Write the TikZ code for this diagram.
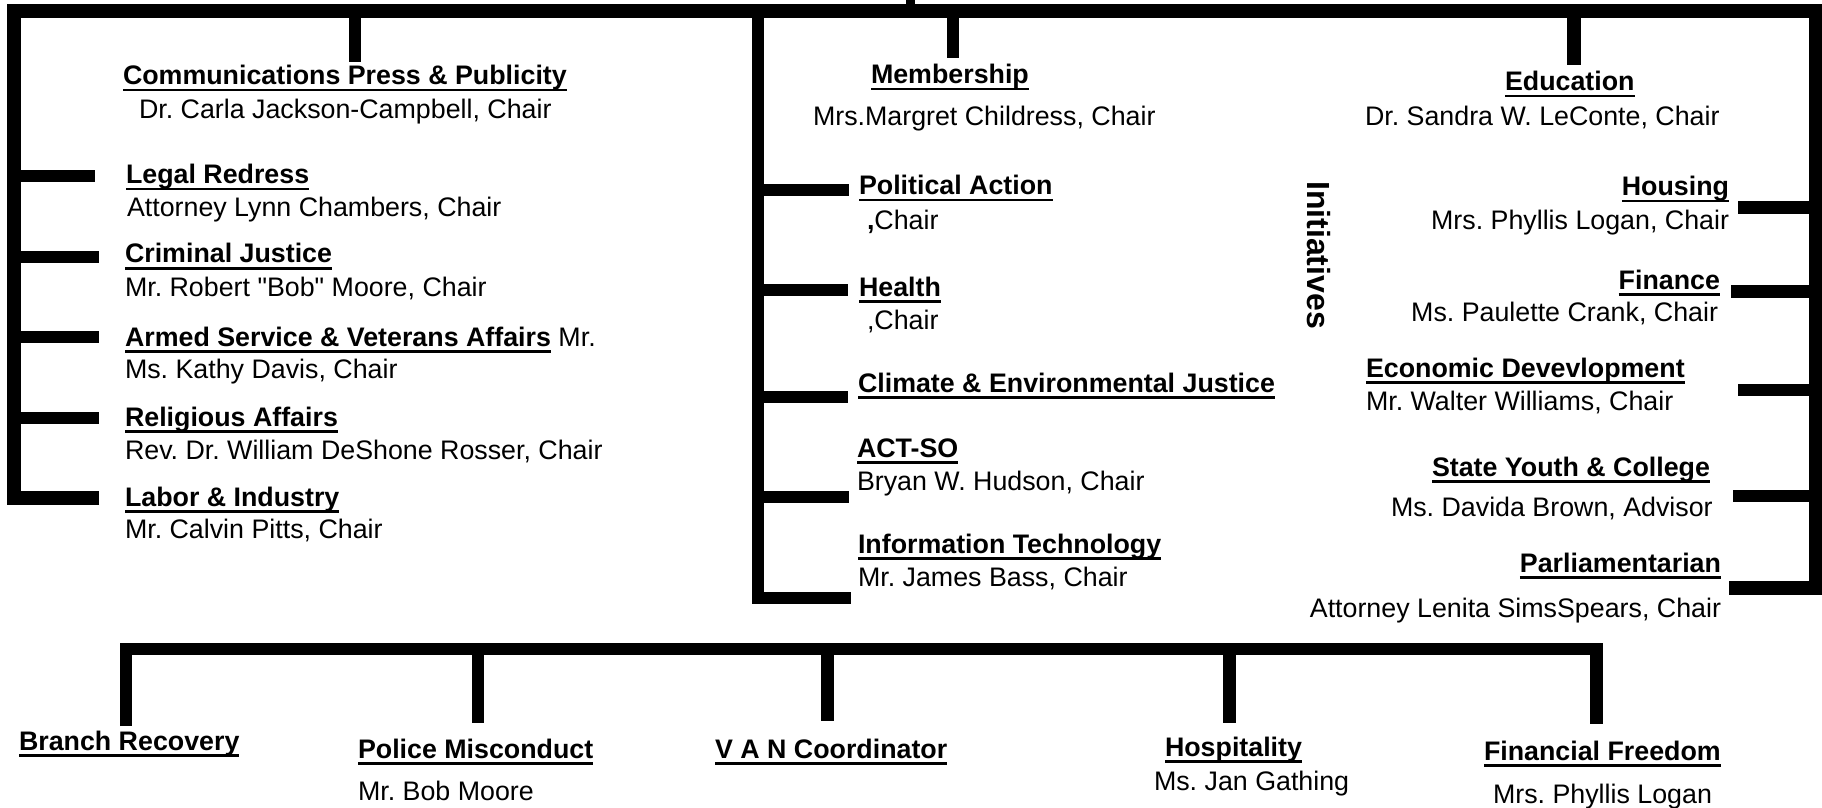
\documentclass[tikz,border=0pt]{standalone}
\usepackage{fontspec}
\setmainfont{Liberation Sans}
\newfontfamily\qfont{Liberation Sans}
\frenchspacing
\begin{document}
\begin{tikzpicture}[x=0.5pt,y=-0.5pt,
  every node/.style={inner sep=0pt, outer sep=0pt, font=\fontsize{13.4}{16}\selectfont},
  bar/.style={line width=6.4pt, line cap=butt, line join=miter},
  wbar/.style={line width=7pt, line cap=butt, line join=miter},
  uline/.style={line width=1.3pt},
  ttl/.style={font=\fontsize{13.4}{16}\selectfont\bfseries},
  lt/.style={anchor=base west},
  rt/.style={anchor=base east}]
\fill[white] (0,0) rectangle (1822,808);
\useasboundingbox (0,0) rectangle (1822,808);

% ---------- coordinates ----------
\coordinate (tl) at (14,11);
\coordinate (tr) at (1816,11);
\coordinate (labJ) at (14,498);
\coordinate (labE) at (99,498);
\coordinate (parJ) at (1816,587.5);
\coordinate (parE) at (1729,587.5);
% left branches
\coordinate (legJ) at (14,176);   \coordinate (legE) at (95,176);
\coordinate (crimJ) at (14,257);  \coordinate (crimE) at (99,257);
\coordinate (armJ) at (14,337);   \coordinate (armE) at (99,337);
\coordinate (relJ) at (14,418);   \coordinate (relE) at (99,418);
% top stems
\coordinate (comJ) at (355,11);  \coordinate (comE) at (355,62);
\coordinate (memJ) at (953,11);  \coordinate (memE) at (953,58);
\coordinate (eduJ) at (1573.5,11); \coordinate (eduE) at (1573.5,65);
% centre column
\coordinate (cTop) at (758,11);
\coordinate (cBot) at (758,598);
\coordinate (itE) at (851,598);
\coordinate (polJ) at (758,190);  \coordinate (polE) at (849,190);
\coordinate (heaJ) at (758,290);  \coordinate (heaE) at (848,290);
\coordinate (cliJ) at (758,397);  \coordinate (cliE) at (848,397);
\coordinate (actJ) at (758,497);  \coordinate (actE) at (849,497);
% right branches
\coordinate (houJ) at (1816,207.5); \coordinate (houE) at (1738,207.5);
\coordinate (finJ) at (1816,291.5); \coordinate (finE) at (1731,291.5);
\coordinate (ecoJ) at (1816,390);   \coordinate (ecoE) at (1738,390);
\coordinate (styJ) at (1816,496);   \coordinate (styE) at (1733,496);
% bottom group
\coordinate (brS) at (126,726);   \coordinate (brJ) at (126,649);
\coordinate (ffJ) at (1596.5,649); \coordinate (ffS) at (1596.5,724);
\coordinate (pmJ) at (478,649);   \coordinate (pmS) at (478,723);
\coordinate (vanJ) at (827.5,649); \coordinate (vanS) at (827.5,721);
\coordinate (hosJ) at (1229.5,649); \coordinate (hosS) at (1229.5,723);

% ---------- connectors ----------
\draw[wbar] (labE) -- (labJ) -- (tl) -- (tr) -- (parJ) -- (parE);
\foreach \a/\b in {legJ/legE, crimJ/crimE, armJ/armE, relJ/relE,
                   comJ/comE, memJ/memE,
                   polJ/polE, heaJ/heaE, cliJ/cliE, actJ/actE,
                   houJ/houE, finJ/finE, ecoJ/ecoE, styJ/styE,
                   pmJ/pmS, vanJ/vanS, hosJ/hosS}
  \draw[bar] (\a) -- (\b);
\draw[wbar] (eduJ) -- (eduE);
\draw[bar] (cTop) -- (cBot) -- (itE);
\draw[bar] (brS) -- (brJ) -- (ffJ) -- (ffS);
\fill (906,0) rectangle (915,4.5);

% ---------- left column ----------
\node[ttl,lt] (com) at (123,85) {Communications Press \& Publicity};
\node[lt] (comN) at (139,118.5) {Dr. Carla Jackson-Campbell, Chair};
\node[ttl,lt] (leg) at (126,184) {Legal Redress};
\node[lt] (legN) at (127,216) {Attorney Lynn Chambers, Chair};
\node[ttl,lt] (crim) at (125,263) {Criminal Justice};
\node[lt] (crimN) at (125,296) {Mr. Robert {\qfont"}Bob{\qfont"} Moore, Chair};
\node[ttl,lt] (arm) at (125,346) {Armed Service \& Veterans Affairs};
\node[lt] (armMr) at (arm.base east) {\ Mr.};
\node[lt] (armN) at (125,378) {Ms. Kathy Davis, Chair};
\node[ttl,lt] (rel) at (125,426) {Religious Affairs};
\node[lt] (relN) at (125,459) {Rev. Dr. William DeShone Rosser, Chair};
\node[ttl,lt] (lab) at (125,506) {Labor \& Industry};
\node[lt] (labN) at (125,538) {Mr. Calvin Pitts, Chair};

% ---------- centre column ----------
\node[ttl,lt] (mem) at (871,84) {Membership};
\node[lt] (memN) at (813,125.5) {Mrs.Margret Childress, Chair};
\node[ttl,lt] (pol) at (859,195) {Political Action};
\node[lt] (polN) at (867,229) {\textbf{,}Chair};
\node[ttl,lt] (hea) at (859,296) {Health};
\node[lt] (heaN) at (867,329) {,Chair};
\node[ttl,lt] (cli) at (858,392) {Climate \& Environmental Justice};
\node[ttl,lt] (act) at (857,457) {ACT-SO};
\node[lt] (actN) at (857,490) {Bryan W. Hudson, Chair};
\node[ttl,lt] (it) at (858,553) {Information Technology};
\node[lt] (itN) at (858,586) {Mr. James Bass, Chair};

% ---------- right column ----------
\node[rotate=-90, font=\fontsize{16}{19}\selectfont\bfseries] (init) at (1319,255) {Initiatives};
\node[ttl,lt] (edu) at (1505,91) {Education};
\node[lt] (eduN) at (1365,126) {Dr. Sandra W. LeConte, Chair};
\node[ttl,rt] (hou) at (1729,196) {Housing};
\node[rt] (houN) at (1729,229) {Mrs. Phyllis Logan, Chair};
\node[ttl,rt] (fin) at (1720,289) {Finance};
\node[rt] (finN) at (1718,321) {Ms. Paulette Crank, Chair};
\node[ttl,lt] (eco) at (1366,377) {Economic Devevlopment};
\node[lt] (ecoN) at (1366,410) {Mr. Walter Williams, Chair};
\node[ttl,lt] (sty) at (1432,476) {State Youth \& College\ };
\node[lt] (styN) at (1391,516) {Ms. Davida Brown, Advisor};
\node[ttl,rt] (par) at (1721,572) {Parliamentarian};
\node[rt] (parN) at (1721,617) {Attorney Lenita SimsSpears, Chair};

% ---------- bottom row ----------
\node[ttl,lt] (br) at (19,750) {Branch Recovery};
\node[ttl,lt] (pm) at (358,758) {Police Misconduct};
\node[lt] (pmN) at (358,800) {Mr. Bob Moore};
\node[ttl,lt] (van) at (715,758) {V A N Coordinator};
\node[ttl,lt] (hos) at (1165,756) {Hospitality};
\node[lt] (hosN) at (1154,790) {Ms. Jan Gathing};
\node[ttl,lt] (ff) at (1484,760) {Financial Freedom};
\node[lt] (ffN) at (1493,803) {Mrs. Phyllis Logan};

% ---------- underlines ----------
\foreach \n in {com,leg,crim,arm,rel,lab,mem,pol,hea,cli,act,it,
                edu,hou,fin,eco,sty,par,br,pm,van,hos,ff}
  \draw[uline] ([yshift=-2.6pt]\n.base west) -- ([yshift=-2.6pt]\n.base east);
\end{tikzpicture}
\end{document}
